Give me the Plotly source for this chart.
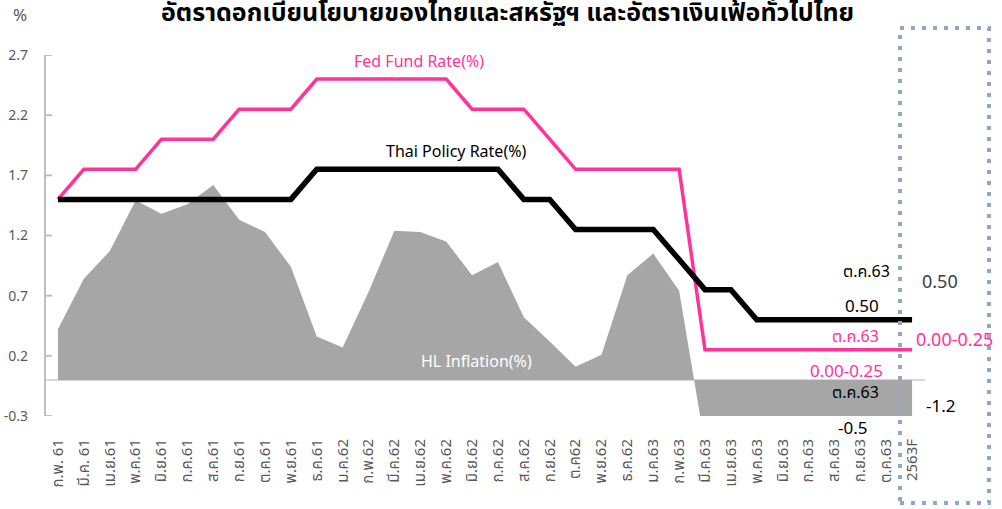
import plotly.graph_objects as go

categories = ["ก.พ. 61", "มี.ค. 61", "เม.ย.61", "พ.ค.61", "มิ.ย.61", "ก.ค.61", "ส.ค.61",
              "ก.ย.61", "ต.ค.61", "พ.ย.61", "ธ.ค.61", "ม.ค.62", "ก.พ.62", "มี.ค.62",
              "เม.ย.62", "พ.ค.62", "มิ.ย.62", "ก.ค.62", "ส.ค.62", "ก.ย.62", "ต.ค62",
              "พ.ย.62", "ธ.ค.62", "ม.ค.63", "ก.พ.63", "มี.ค.63", "เม.ย.63", "พ.ค.63",
              "มิ.ย.63", "ก.ค.63", "ส.ค.63", "ก.ย.63", "ต.ค.63", "2563F"]

hl_inflation = [0.42, 0.84, 1.07, 1.49, 1.38, 1.46, 1.62, 1.33, 1.23, 0.94, 0.36, 0.27,
                0.73, 1.24, 1.23, 1.15, 0.87, 0.98, 0.52, 0.32, 0.11, 0.21, 0.87, 1.05,
                0.74, -0.54, -2.99, -3.44, -1.57, -0.98, -0.50, -0.70, -0.50, -1.2]

fed_rate = [1.5, 1.75, 1.75, 1.75, 2.0, 2.0, 2.0, 2.25, 2.25, 2.25, 2.5, 2.5, 2.5, 2.5,
            2.5, 2.5, 2.25, 2.25, 2.25, 2.0, 1.75, 1.75, 1.75, 1.75, 1.75, 0.25, 0.25,
            0.25, 0.25, 0.25, 0.25, 0.25, 0.25, 0.25]

thai_rate = [1.5, 1.5, 1.5, 1.5, 1.5, 1.5, 1.5, 1.5, 1.5, 1.5, 1.75, 1.75, 1.75, 1.75,
             1.75, 1.75, 1.75, 1.75, 1.5, 1.5, 1.25, 1.25, 1.25, 1.25, 1.0, 0.75, 0.75,
             0.5, 0.5, 0.5, 0.5, 0.5, 0.5, 0.5]

y_ticks = [-0.3, 0.2, 0.7, 1.2, 1.7, 2.2, 2.7]

title_text = "อัตราดอกเบี้ยนโยบายของไทยและสหรัฐฯ และอัตราเงินเฟ้อทั่วไปไทย"

PINK = "#ff3399"
AXIS = "#bfbfbf"
FONT = "Noto Sans, Noto Sans Thai, Tahoma, sans-serif"

fig = go.Figure()
fig.add_trace(go.Scatter(x=categories, y=hl_inflation, mode="lines", fill="tozeroy",
                         fillcolor="#a6a6a6", line=dict(width=0, color="#a6a6a6"),
                         name="HL Inflation(%)", hoverinfo="x+y"))
fig.add_trace(go.Scatter(x=categories, y=fed_rate, mode="lines",
                         line=dict(width=3.5, color=PINK), name="Fed Fund Rate(%)"))
fig.add_trace(go.Scatter(x=categories, y=thai_rate, mode="lines",
                         line=dict(width=5.5, color="#000000"), name="Thai Policy Rate(%)"))

L, R, T, B = 45, 925, 55, 416
W, H = 1002, 509


def px(xp):
    return (xp - L) / (R - L)


def py(yp):
    return (B - yp) / (B - T)


annotations = []


def add_text(text, xp, yp, size=16, color="#000000", bold=False, xanchor="center"):
    if bold:
        text = "<b>" + text + "</b>"
    annotations.append(dict(text=text, x=px(xp), y=py(yp), xref="paper", yref="paper",
                            xanchor=xanchor, yanchor="middle", showarrow=False,
                            font=dict(size=size, color=color, family=FONT)))


add_text(title_text, 507, 11, size=25, bold=True)
add_text("%", 20, 15, size=17, color="#595959")
add_text("Fed Fund Rate(%)", 419, 61, size=16, color=PINK)
add_text("Thai Policy Rate(%)", 456, 151, size=16)
add_text("HL Inflation(%)", 476, 361, size=16, color="#ffffff")
add_text("ต.ค.63", 866, 271, size=16)
add_text("0.50", 862, 305, size=17)
add_text("ต.ค.63", 855, 336, size=16, color=PINK)
add_text("0.00-0.25", 846, 370, size=17, color=PINK)
add_text("ต.ค.63", 855, 392, size=16)
add_text("-0.5", 852, 428, size=17)
add_text("0.50", 940, 281, size=18, color="#404040")
add_text("0.00-0.25", 914, 339, size=18, color=PINK, xanchor="left")
add_text("-1.2", 940, 405, size=17)

shapes = [
    dict(type="rect", xref="paper", yref="paper",
         x0=px(900), x1=px(989), y0=py(503), y1=py(28),
         line=dict(color="#8fa8c8", width=4, dash="4px,7px"),
         fillcolor="rgba(0,0,0,0)", layer="above"),
    # left value-axis line
    dict(type="rect", xref="paper", yref="paper",
         x0=px(L - 1), x1=px(L + 1), y0=0, y1=1,
         line=dict(width=0), fillcolor=AXIS, layer="above"),
]
# inside tick marks
for v in y_ticks:
    shapes.append(dict(type="rect", xref="paper", yref="y",
                       x0=px(L - 1), x1=px(L + 7), y0=v - 0.008, y1=v + 0.008,
                       line=dict(width=0), fillcolor=AXIS, layer="above"))

fig.update_layout(
    width=W, height=H,
    margin=dict(l=L, r=W - R, t=T, b=H - B, autoexpand=False),
    plot_bgcolor="#ffffff", paper_bgcolor="#ffffff",
    showlegend=False,
    annotations=annotations,
    shapes=shapes,
    font=dict(family=FONT),
)
fig.update_xaxes(type="category", range=[-0.5, len(categories) - 0.5],
                 showgrid=False, showline=False, zeroline=False, ticks="",
                 tickangle=-90, tickfont=dict(size=15, color="#595959", family=FONT),
                 ticklabelstandoff=19, automargin=False)
fig.update_yaxes(range=[-0.3, 2.7], tickvals=y_ticks, ticktext=[f"{v:.1f}" for v in y_ticks],
                 showgrid=False, showline=False, ticks="",
                 zeroline=True, zerolinecolor="#d9d9d9", zerolinewidth=2,
                 tickfont=dict(size=14, color="#595959", family=FONT),
                 ticklabelstandoff=16, automargin=False)

fig.write_html("out.html", config={"displayModeBar": False},
               post_script=["document.body.style.margin='0px';"
                            "document.body.style.overflow='hidden';"])
